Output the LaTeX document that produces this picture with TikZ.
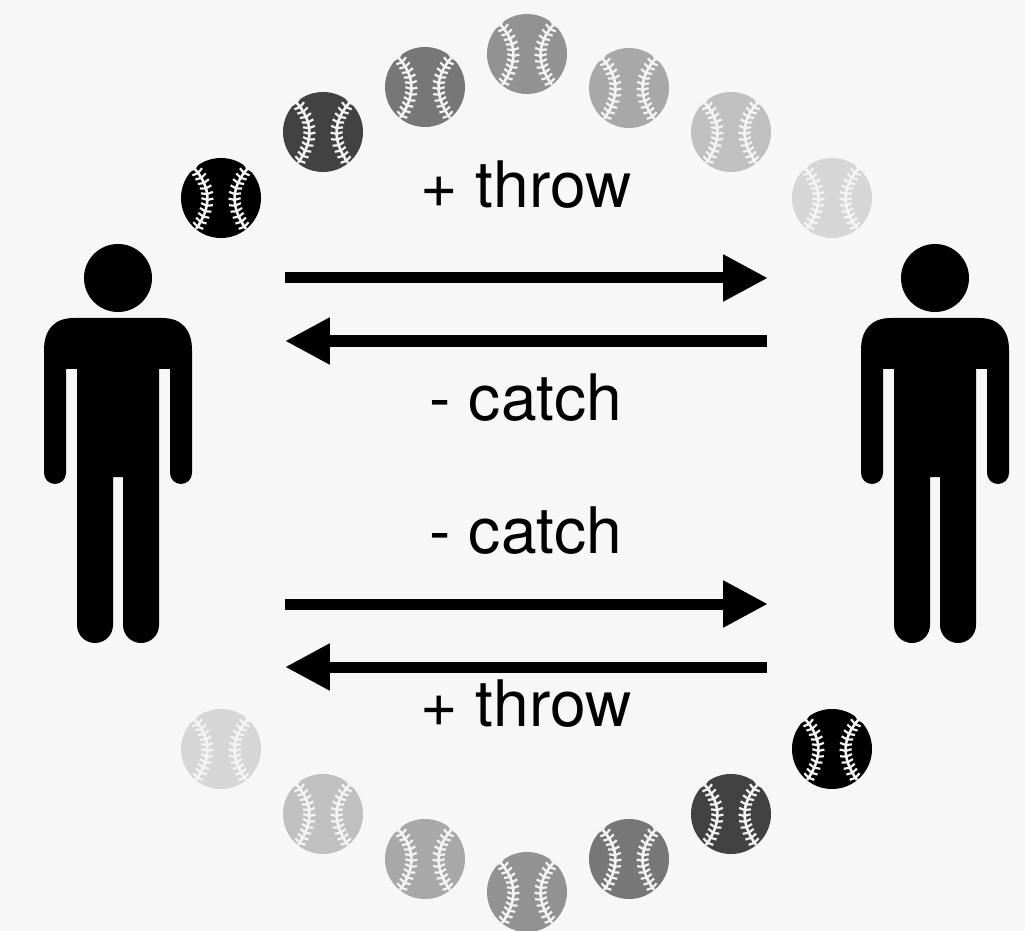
\documentclass[tikz,border=0pt]{standalone}
\usepackage{fontspec}
\setmainfont{TeX Gyre Heros}
\usetikzlibrary{arrows.meta,decorations.markings}

\definecolor{paper}{HTML}{F7F7F7}
\definecolor{stitch}{HTML}{F4F4F4}

\tikzset{
  >={Triangle[length=1.12cm,width=1.1cm]},
  pass/.style={->,line width=0.275cm},
  word/.style={anchor=base,inner sep=0pt,font=\fontsize{45.6}{50}\selectfont},
  ball/.style={shape=circle,inner sep=0pt,minimum size=2cm},
  seam/.style={draw=stitch,line width=0.065cm,postaction={decorate},
    decoration={markings,mark=between positions 0.01 and 1 step 0.145cm with
      {\draw[stitch,line width=0.055cm] (-1.5,-6) -- (0,0) -- (-1.5,6);}}},
  pics/baseball/.style={code={
    \node[ball,fill=#1] (-disc) at (0,0) {};
    \draw[seam] (-27,-30) .. controls (-9,-10) and (-10,10) .. (-25,31);
    \draw[seam] (27,-30) .. controls (9,-10) and (10,10) .. (25,31);
  }},
  pics/player/.style={code={
    \node[shape=circle,fill=black,inner sep=0pt,minimum size=1.7cm] (-head) at (0,0) {};
    \fill (-44,40) -- (44,40) .. controls (64,40) and (74,52) .. (74,72) -- (74,195)
      arc (0:180:11) -- (52,91) -- (41,91) -- (41,347) arc (0:180:18)
      -- (5,199) -- (-5,199) -- (-5,347) arc (0:180:18)
      -- (-41,91) -- (-52,91) -- (-52,195) arc (0:180:11)
      -- (-74,72) .. controls (-74,52) and (-64,40) .. (-44,40) -- cycle;
  }}
}

\begin{document}
\begin{tikzpicture}[x=0.025cm,y=-0.025cm]
  \useasboundingbox (0,0) rectangle (1025,931);
  \fill[paper] (0,0) rectangle (1025,931);

  % the two players
  \pic (playerL) at (118,278) {player};
  \pic (playerR) at (935,278) {player};

  % balls over the top, dark to light
  \foreach \x/\y/\g [count=\i] in {221/198/000000,323/132/424242,425/87/777777,527/54/929292,
      629/88/A8A8A8,731/132/C0C0C0,832/198/D6D6D6} {
    \definecolor{shade}{HTML}{\g}
    \pic (top\i) at (\x,\y) {baseball=shade};
  }
  % balls under the bottom, light to dark
  \foreach \x/\y/\g [count=\i] in {221/749/D6D6D6,323/814/C0C0C0,425/859/A8A8A8,527/892/929292,
      629/859/777777,731/814/424242,832/749/000000} {
    \definecolor{shade}{HTML}{\g}
    \pic (low\i) at (\x,\y) {baseball=shade};
  }

  \coordinate (A1) at (285,278);
  \coordinate (B1) at (768,278);
  \coordinate (A2) at (285,341);
  \coordinate (B2) at (767,341);
  \coordinate (A3) at (285,604);
  \coordinate (B3) at (768,604);
  \coordinate (A4) at (285,667);
  \coordinate (B4) at (767,667);

  \path [pass] (A1) edge (B1);
  \path [pass] (B2) edge (A2);
  \path [pass] (A3) edge (B3);
  \path [pass] (B4) edge (A4);

  \node[word] (throwT) at (526,208) {+ throw};
  \node[word] (catchT) at (526,420) {- catch};
  \node[word] (catchB) at (526,553) {- catch};
  \node[word] (throwB) at (526,726) {+ throw};
\end{tikzpicture}
\end{document}
